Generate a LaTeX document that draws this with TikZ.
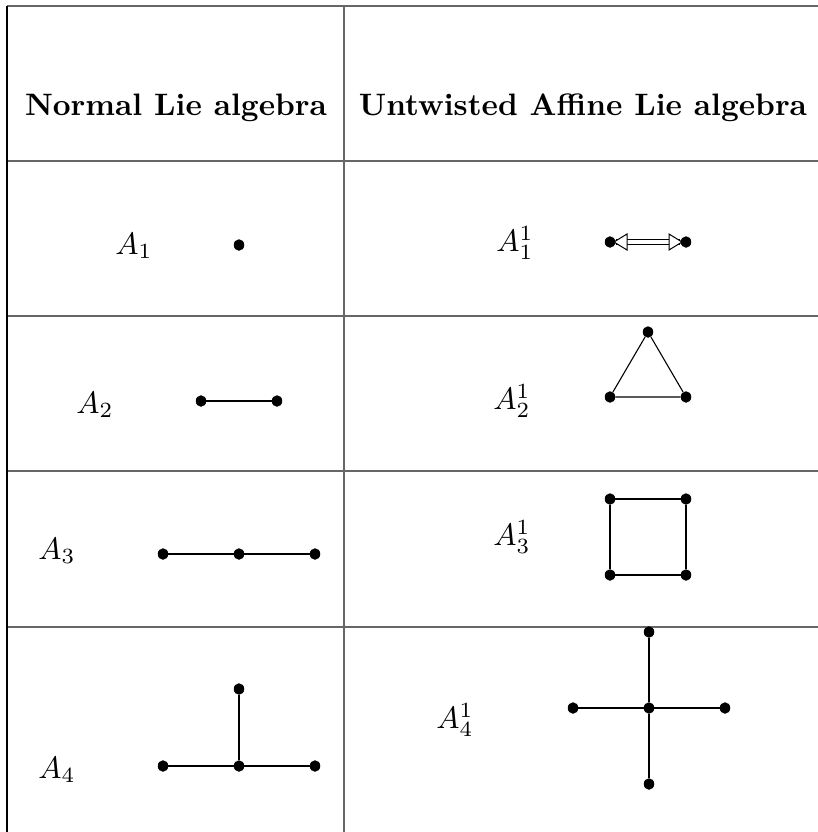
\documentclass[tikz,border=0pt]{standalone}
\usetikzlibrary{calc,shapes.geometric}
\begin{document}
\begin{tikzpicture}[x=1pt,y=-1pt,
  dot/.style={ellipse,fill=black,inner sep=0pt,minimum width=10.5pt,minimum height=11.5pt},
  edge/.style={line width=1.1pt,black},
  grid/.style={line width=2pt,black!60},
  lbl/.style={inner sep=0pt,font=\normalsize,scale=3.1},
  head/.style={inner sep=0pt,font=\normalsize\bfseries,scale=3.1}]
\useasboundingbox (0,0) rectangle (818,832);
% table
\draw[grid] (7,6) -- (818,6);
\draw[grid] (7,161) -- (818,161);
\draw[grid] (7,316) -- (818,316);
\draw[grid] (7,471) -- (818,471);
\draw[grid] (7,627) -- (818,627);
\draw[line width=2pt,black] (7,6) -- (7,832);
\draw[grid] (344,6) -- (344,832);
% headers
\node[head] (h1) at (176,108) {Normal Lie algebra};
\node[head] (h2) at (583,108) {Untwisted Affine Lie algebra};
% A1
\node[lbl] (l1) at (134,246) {$A_1$};
\node[dot] (a1) at (239,245) {};
% A1^1
\node[lbl] (m1) at (515,243) {$A_1^1$};
\node[dot] (b1) at (610,242) {};
\node[dot] (b2) at (686,242) {};
\draw[line width=1pt,double=white,double distance=4pt] ($(b1)+(6,0)$) -- ($(b2)+(-6,0)$);
\draw[line width=1pt,fill=white] ($(b1)+(4,0)$) -- ($(b1)+(17,-8)$) -- ($(b1)+(17,8)$) -- cycle;
\draw[line width=1pt,fill=white] ($(b2)+(-4,0)$) -- ($(b2)+(-17,-8)$) -- ($(b2)+(-17,8)$) -- cycle;
% A2
\node[lbl] (l2) at (95,405) {$A_2$};
\node[dot] (c1) at (201,401) {};
\node[dot] (c2) at (277,401) {};
\draw[edge] (c1) -- (c2);
% A2^1
\node[lbl] (m2) at (512,401) {$A_2^1$};
\node[dot] (d1) at (648,332) {};
\node[dot] (d2) at (610,397) {};
\node[dot] (d3) at (686,397) {};
\draw[edge] (d1) -- (d2) -- (d3) -- (d1);
% A3
\node[lbl] (l3) at (57,551) {$A_3$};
\node[dot] (e1) at (163,554) {};
\node[dot] (e2) at (239,554) {};
\node[dot] (e3) at (315,554) {};
\draw[edge] (e1) -- (e2) -- (e3);
% A3^1
\node[lbl] (m3) at (512,537) {$A_3^1$};
\node[dot] (f1) at (610,499) {};
\node[dot] (f2) at (686,499) {};
\node[dot] (f3) at (686,575) {};
\node[dot] (f4) at (610,575) {};
\draw[edge] (f1) -- (f2) -- (f3) -- (f4) -- (f1);
% A4
\node[lbl] (l4) at (57,770) {$A_4$};
\node[dot] (g1) at (163,766) {};
\node[dot] (g2) at (239,766) {};
\node[dot] (g3) at (315,766) {};
\node[dot] (g4) at (239,689) {};
\draw[edge] (g1) -- (g2) -- (g3);
\draw[edge] (g2) -- (g4);
% A4^1
\node[lbl] (m4) at (455,720) {$A_4^1$};
\node[dot] (k0) at (649,708) {};
\node[dot] (k1) at (649,632) {};
\node[dot] (k2) at (649,784) {};
\node[dot] (k3) at (573,708) {};
\node[dot] (k4) at (725,708) {};
\draw[edge] (k1) -- (k0) -- (k2);
\draw[edge] (k3) -- (k0) -- (k4);
\end{tikzpicture}
\end{document}
